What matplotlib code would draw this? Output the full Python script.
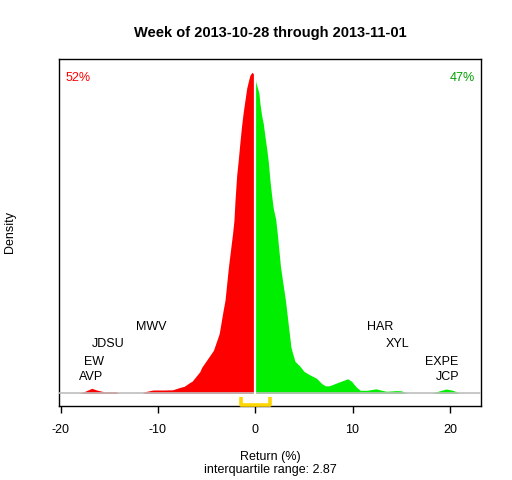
import matplotlib
matplotlib.use("Agg")
import matplotlib.pyplot as plt
import numpy as np

plt.rcParams['font.family'] = ['Liberation Sans', 'DejaVu Sans']

# density curve of weekly returns (%), density in arbitrary units
ret_x = [-18.1, -17.5, -16.8, -16.2, -15.5, -14.3, -14.1, -11.6, -11.4, -10.5, -9.5, -8.5,
         -7.7, -7.3, -6.7, -6.5, -5.7, -5.5, -4.65, -4.3, -3.8, -3.7, -3.3, -3.11, -2.76,
         -2.33, -2.19, -2.08, -1.91, -1.75, -1.57, -1.4, -1.23, -1.06, -0.88, -0.72, -0.55,
         -0.34, -0.1, 0.0, 0.07, 0.24, 0.38, 0.48, 0.65, 0.82, 1.0, 1.17, 1.34, 1.51, 1.68,
         1.85, 2.1, 2.26, 2.6, 3.1, 3.5, 3.67, 3.84, 4.08, 4.6, 5.0, 5.5, 6.3, 6.8, 7.2, 7.6,
         8.0, 8.8, 9.5, 9.9, 10.4, 10.8, 11.5, 12.4, 13.0, 13.5, 14.5, 15.0, 15.5, 15.6,
         18.2, 18.6, 19.6, 20.3, 20.9, 21.0]
dens_px = [0, 2, 5, 3, 1.5, 1.5, 0, 0, 1.5, 3.3, 3.3, 3.5,
           6, 7, 11, 12, 21.6, 26, 38, 43, 57, 60, 83, 93, 126,
           160, 173, 193, 218, 233, 251.6, 268, 281.6, 293, 305, 311.6, 318,
           321, 319, 315, 310.6, 305, 300, 290, 278, 270, 256.6, 245, 231.6, 213, 198,
           185, 174, 160, 126, 93, 60, 46, 40, 32, 27, 22, 19, 15, 10, 7.5, 7.5,
           9, 12, 14.5, 12, 6, 3, 3, 4.5, 3, 2, 2.7, 2.5, 0.5, 0,
           0, 1.5, 4.3, 3, 0.5, 0]
density = [v / 1200.0 for v in dens_px]

pct_down = "52%"
pct_up = "47%"
iqr_lo, iqr_hi = -1.47, 1.51
iqr_text = "interquartile range: 2.87"

left_labels = ["AVP", "EW", "JDSU", "MWV"]
left_x = [-16.9, -16.6, -15.1, -10.7]
right_labels = ["JCP", "EXPE", "XYL", "HAR"]
right_x = [19.8, 19.2, 14.6, 12.8]
label_y = [15.8, 31.6, 49.0, 66.0]  # in px-units above baseline
label_y = [v / 1200.0 for v in label_y]

xticks = [-20, -10, 0, 10, 20]

fig = plt.figure(figsize=(5.12, 4.8), dpi=100)
ax = fig.add_axes([59/512, 1 - 406/480, (481-59)/512, (406-59)/480])

x = np.array(ret_x)
y = np.array(density)
ax.fill_between(x, 0, y, where=x <= 0, color='#ff0000', linewidth=0, interpolate=False)
ax.fill_between(x, 0, y, where=x >= 0, color='#00ee00', linewidth=0, interpolate=False)
ax.axhline(0, color='#bebebe', lw=1.2, zorder=3)

ax.set_xlim(-20.17, 23.2)
ytop = (393.3 - 59) / 1200.0
ybot = -(406 - 393.3) / 1200.0
ax.set_ylim(ybot, ytop)
ax.plot([0, 0], [0, max(density)], color='white', lw=1.6, zorder=3)

for lab, lx, ly in zip(left_labels, left_x, label_y):
    ax.text(lx, ly, lab, ha='center', va='center', fontsize=9, color='black')
for lab, lx, ly in zip(right_labels, right_x, label_y):
    ax.text(lx, ly, lab, ha='center', va='center', fontsize=9, color='black')

ax.text(0.045, 0.945, pct_down, transform=ax.transAxes, ha='center', va='center',
        fontsize=9, color='#ff0000')
ax.text(0.955, 0.945, pct_up, transform=ax.transAxes, ha='center', va='center',
        fontsize=9, color='#00a000')

# IQR bracket
bh = (406 - 398.3) / 1200.0
yb = ybot + 0.0008
ax.plot([iqr_lo, iqr_lo, iqr_hi, iqr_hi], [yb + bh, yb, yb, yb + bh], color='#ffd700',
        lw=2.6, solid_capstyle='butt', solid_joinstyle='round', zorder=5, clip_on=False)

ax.set_xticks(xticks)
ax.set_xticklabels([str(t) for t in xticks], fontsize=9)
ax.tick_params(axis='x', length=5, width=1, pad=8)
ax.set_yticks([])
for s in ax.spines.values():
    s.set_linewidth(1)

fig.text(270/512, 1 - 33/480, "Week of 2013-10-28 through 2013-11-01", ha='center',
         va='center', fontsize=10.5, fontweight='bold')
fig.text(270/512, 1 - 457/480, "Return (%)", ha='center', va='center', fontsize=9)
fig.text(270/512, 1 - 470/480, iqr_text, ha='center', va='center', fontsize=9)
fig.text(10/512, 1 - 232/480, "Density", ha='center', va='center', fontsize=9, rotation=90)

fig.savefig("out.png", dpi=100)
